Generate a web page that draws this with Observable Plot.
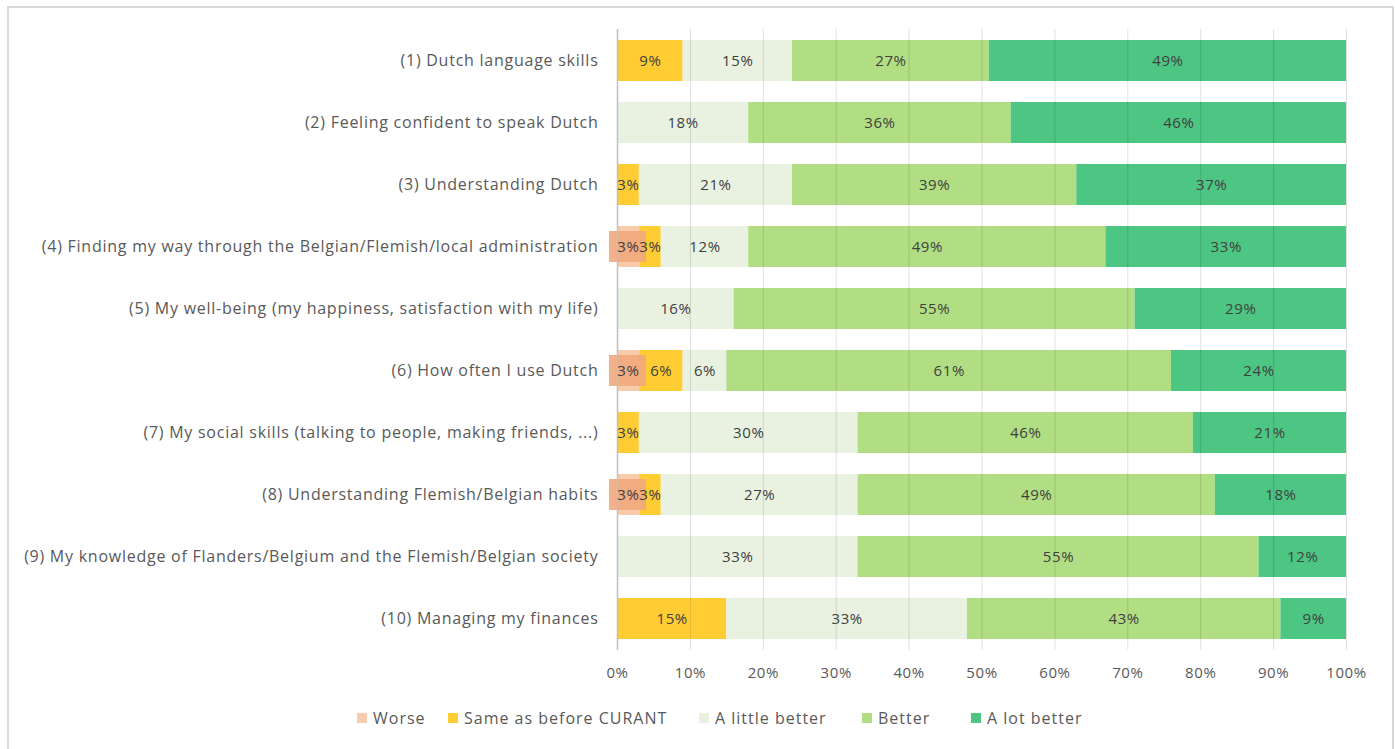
<!DOCTYPE html>
<html>
<head>
<meta charset="utf-8">
<script src="https://cdn.jsdelivr.net/npm/d3@7"></script>
<script src="https://cdn.jsdelivr.net/npm/@observablehq/plot@0.6"></script>
<style>
  html, body { margin: 0; padding: 0; background: #fff; }
  body { width: 1395px; height: 749px; position: relative; overflow: hidden; font-family: "Open Sans", sans-serif; }
  #frame { position: absolute; left: 7px; top: 6px; width: 1387px; height: 800px; border: 2px solid #D9D9D9; box-sizing: border-box; }
  #chart { position: absolute; left: 0; top: 0; }
  #chart svg g[aria-label="y-axis tick label"] text { letter-spacing: 0.75px; }
  #chart svg g[aria-label="x-axis tick label"] text { letter-spacing: 0.6px; }
  #chart svg g[aria-label="text"] text { letter-spacing: 0.6px; }
  #legend { position: absolute; left: 0; top: 707px; width: 1395px; height: 24px; font-size: 16px; letter-spacing: 1px; color: #595959; }
  #legend .item { position: absolute; top: 0; display: flex; align-items: center; gap: 6px; white-space: nowrap; }
  #legend .sw { width: 10px; height: 10px; display: inline-block; }
</style>
</head>
<body>
<div id="frame"></div>
<div id="chart"></div>
<div id="legend"></div>
<script>
const items = [
  "(1) Dutch language skills",
  "(2) Feeling confident to speak Dutch",
  "(3) Understanding Dutch",
  "(4) Finding my way through the Belgian/Flemish/local administration",
  "(5) My well-being (my happiness, satisfaction with my life)",
  "(6) How often I use Dutch",
  "(7) My social skills (talking to people, making friends, ...)",
  "(8) Understanding Flemish/Belgian habits",
  "(9) My knowledge of Flanders/Belgium and the Flemish/Belgian society",
  "(10) Managing my finances"
];
const categories = ["Worse", "Same as before CURANT", "A little better", "Better", "A lot better"];
const worse       = [0, 0, 0, 3, 0, 3, 0, 3, 0, 0];
const same        = [9, 0, 3, 3, 0, 6, 3, 3, 0, 15];
const littleBetter= [15, 18, 21, 12, 16, 6, 30, 27, 33, 33];
const better      = [27, 36, 39, 49, 55, 61, 46, 49, 55, 43];
const lotBetter   = [49, 46, 37, 33, 29, 24, 21, 18, 12, 9];
const tickValues  = [0, 10, 20, 30, 40, 50, 60, 70, 80, 90, 100];
const colors = ["#F8CBAD", "#FFCC33", "#E9F2E1", "#B1DE82", "#4CC682"];
const legendLeft = [357, 448, 699, 862, 971];

const series = [worse, same, littleBetter, better, lotBetter];
const rows = [];
items.forEach((item, i) => {
  let acc = 0;
  series.forEach((vals, k) => {
    const v = vals[i];
    rows.push({item, cat: categories[k], value: v, x1: acc, x2: acc + v});
    acc += v;
  });
});
const visible = rows.filter(d => d.value > 0);
const worseRows = visible.filter(d => d.cat === "Worse");

const chart = Plot.plot({
  width: 1395,
  height: 695,
  marginLeft: 617,
  marginRight: 49,
  marginTop: 29,
  marginBottom: 45,
  style: { fontFamily: "Open Sans, sans-serif", color: "#595959", background: "transparent" },
  x: { domain: [0, 100] },
  y: { domain: items, paddingInner: 0.34, paddingOuter: 0.17 },
  color: { domain: categories, range: colors },
  marks: [
    Plot.barX(visible, { x1: "x1", x2: "x2", y: "item", fill: "cat" }),
    Plot.barX(worseRows, { x1: "x1", x2: "x2", y: "item", fill: "#F2A97C", fillOpacity: 0.9,
      insetLeft: -8, insetRight: -7, insetTop: 5, insetBottom: 5 }),
    Plot.gridX(tickValues, { stroke: "#000", strokeOpacity: 0.12 }),
    Plot.ruleX([0], { stroke: "#BFBFBF", strokeWidth: 1.5 }),
    Plot.text(visible, { x: d => (d.x1 + d.x2) / 2, y: "item", text: d => d.value + "%",
      fill: "#404040", fontSize: 15 }),
    Plot.axisY({ tickSize: 0, tickPadding: 19, fontSize: 16, label: null }),
    Plot.axisX({ ticks: tickValues, tickFormat: d => d + "%", tickSize: 0, tickPadding: 17, fontSize: 15, label: null })
  ]
});
document.getElementById("chart").appendChild(chart);

const legend = document.getElementById("legend");
categories.forEach((c, k) => {
  const it = document.createElement("div");
  it.className = "item";
  it.style.left = legendLeft[k] + "px";
  const sw = document.createElement("span");
  sw.className = "sw";
  sw.style.background = colors[k];
  const t = document.createElement("span");
  t.textContent = c;
  it.appendChild(sw); it.appendChild(t);
  legend.appendChild(it);
});
</script>
</body>
</html>
